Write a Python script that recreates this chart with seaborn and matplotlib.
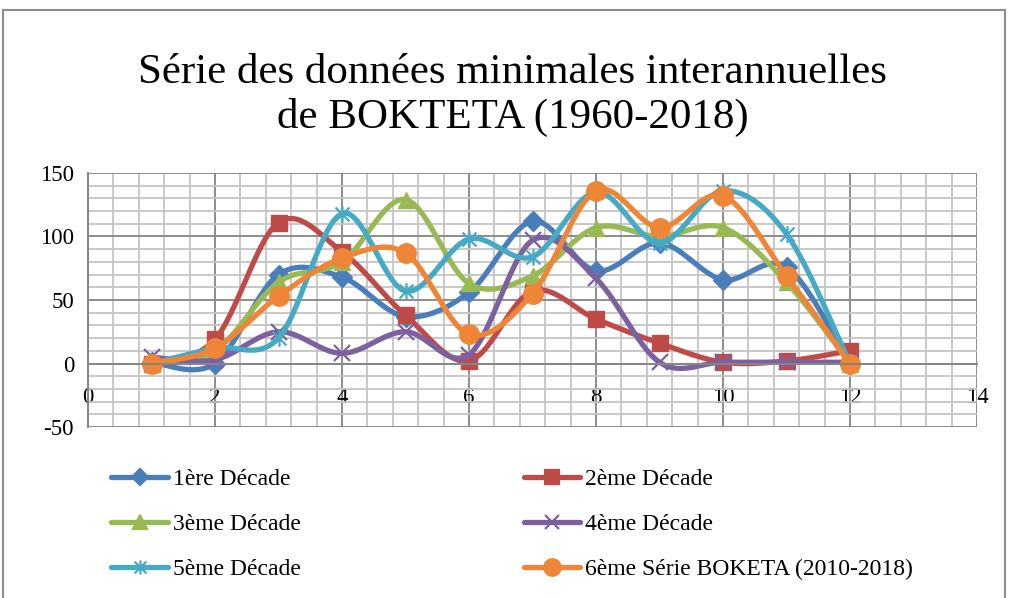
import numpy as np
import pandas as pd
import matplotlib
matplotlib.use('Agg')
import matplotlib.pyplot as plt
from matplotlib.lines import Line2D
from matplotlib.patches import Rectangle
from matplotlib.path import Path
from matplotlib.ticker import MultipleLocator, FixedLocator, FixedFormatter
import seaborn as sns

# Data (x = 1..12)
x_vals = [1, 2, 3, 4, 5, 6, 7, 8, 9, 10, 11, 12]
decade_1 = [1, 0, 70, 68, 37, 56, 112, 73, 95, 66, 76, 0]
decade_2 = [0, 19, 111, 88, 38, 2, 57, 35, 16, 1, 2, 10]
decade_3 = [0, 10, 64, 80, 129, 63, 69, 107, 100, 107, 64, 0]
decade_4 = [5, 3, 25, 8, 25, 7, 97, 67, 1, 1, 1, 1]
decade_5 = [0, 12, 20, 118, 57, 98, 84, 135, 95, 136, 102, 0]
decade_6 = [0, 12, 53, 83, 87, 23, 55, 136, 107, 132, 69, 0]

series_names = ['1ère Décade', '2ème Décade', '3ème Décade', '4ème Décade',
                '5ème Décade', '6ème Série BOKETA (2010-2018)']
series_values = [decade_1, decade_2, decade_3, decade_4, decade_5, decade_6]
colors = ['#4A7EBB', '#BE4B48', '#98B954', '#7D60A0', '#46AAC5', '#EE8537']

y_ticks = [-50, 0, 50, 100, 150]
y_tick_labels = ['-50', '0', '50', '100', '150']

# Excel-style "star" marker: an x plus a vertical bar
star = Path([(-1, -1), (1, 1), (-1, 1), (1, -1), (0, -1.2), (0, 1.2)],
            [Path.MOVETO, Path.LINETO, Path.MOVETO, Path.LINETO, Path.MOVETO, Path.LINETO])
markers = ['D', 's', '^', 'x', star, 'o']
marker_sizes = [10, 12, 12, 12, 12, 14]

title = 'Série des données minimales interannuelles\nde BOKTETA (1960-2018)'


def smooth_curve(xs, ys, n=30):
    # Excel-like smoothed line: Catmull-Rom segments drawn as cubic Bezier
    p = np.column_stack([xs, ys]).astype(float)
    p_ext = np.vstack([p[0], p, p[-1]])
    t = np.linspace(0, 1, n)[:, None]
    out = []
    for i in range(len(p) - 1):
        p0, p1, p2, p3 = p_ext[i], p_ext[i + 1], p_ext[i + 2], p_ext[i + 3]
        c1 = p1 + (p2 - p0) / 6
        c2 = p2 - (p3 - p1) / 6
        seg = ((1 - t) ** 3) * p1 + 3 * ((1 - t) ** 2) * t * c1 + 3 * (1 - t) * t ** 2 * c2 + t ** 3 * p2
        out.append(seg if i == 0 else seg[1:])
    out = np.vstack(out)
    return out[:, 0], out[:, 1]


sns.set_style('white')
plt.rcParams['font.family'] = ['Liberation Serif', 'DejaVu Serif']

fig = plt.figure(figsize=(10.09, 5.98), dpi=100)
ax = fig.add_axes([88 / 1009, 1 - 427 / 598, (977 - 88) / 1009, (427 - 173) / 598])

for name, vals, col, mk, ms in zip(series_names, series_values, colors, markers, marker_sizes):
    sx, sy = smooth_curve(x_vals, vals)
    curve = pd.DataFrame({'x': sx, 'y': sy})
    sns.lineplot(data=curve, x='x', y='y', sort=False, color=col, lw=3.8, ax=ax)
    thin = isinstance(mk, Path) or mk == 'x'
    ax.plot(x_vals, vals, linestyle='none', marker=mk, markersize=ms, color=col,
            markeredgecolor=col, markeredgewidth=1.6 if thin else 1)

ax.set_xlim(0, 14)
ax.set_ylim(-50, 150)
ax.xaxis.set_major_locator(MultipleLocator(2))
ax.xaxis.set_minor_locator(MultipleLocator(0.4))
ax.yaxis.set_major_locator(FixedLocator(y_ticks))
ax.yaxis.set_major_formatter(FixedFormatter(y_tick_labels))
ax.yaxis.set_minor_locator(MultipleLocator(10))
ax.grid(which='minor', color='#C4C4C4', lw=1.3, zorder=0)
ax.grid(which='major', color='#8C8C8C', lw=1.4, zorder=0)
ax.set_axisbelow(True)
ax.set_xlabel('')
ax.set_ylabel('')

for s in ['top', 'right']:
    ax.spines[s].set_visible(False)
ax.spines['bottom'].set_position(('data', 0))
ax.spines['bottom'].set_color('#868686')
ax.spines['left'].set_color('#868686')
ax.spines['bottom'].set_linewidth(1.4)
ax.spines['left'].set_linewidth(1.4)

ax.tick_params(axis='x', which='both', length=0, pad=17, labelsize=16.5, labelcolor='black')
ax.tick_params(axis='y', which='major', length=6, width=1.2, color='#868686', direction='out',
               pad=4, labelsize=16.5, labelcolor='black')
ax.tick_params(axis='y', which='minor', length=0)

fig.text(0.508, 0.84, title, ha='center', va='center', fontsize=31, linespacing=1.2,
         color='black')

handles = [Line2D([0], [0], color=c, lw=3.8, marker=m, markersize=ms * 0.85,
                  markeredgecolor=c, markeredgewidth=1.6)
           for c, m, ms in zip(colors, markers, marker_sizes)]
order = [0, 2, 4, 1, 3, 5]
fig.legend([handles[i] for i in order], [series_names[i] for i in order], ncol=2,
           loc='upper left', bbox_to_anchor=(90 / 1009, 1 - 447 / 598), frameon=False,
           fontsize=17, labelcolor='black', handlelength=2.4, handletextpad=0.2,
           columnspacing=9.45, labelspacing=1.0)

fig.add_artist(Rectangle((3 / 1009, -0.02), 1002 / 1009, 1.02 - 10 / 598,
                         transform=fig.transFigure, fill=False, edgecolor='#8C8C8C', lw=1.5))

fig.savefig('out.png', dpi=100)
